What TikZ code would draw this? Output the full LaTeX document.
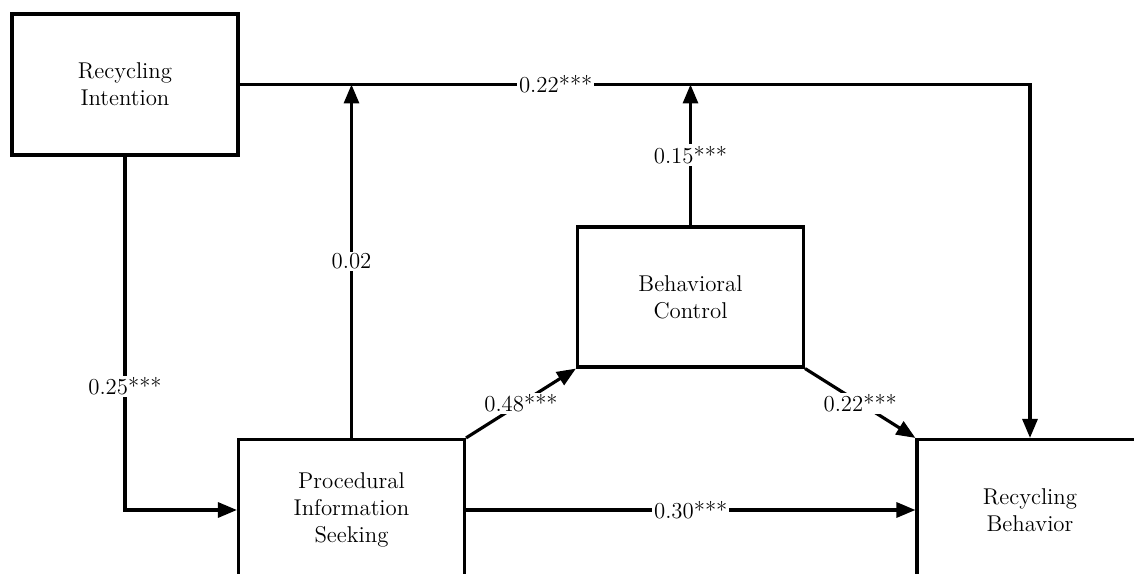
\documentclass[tikz,border=0pt]{standalone}
\usepackage{tikz}
\usetikzlibrary{arrows.meta,positioning,calc}
\tikzset{
  factor/.style={rectangle, draw=black, line width=1.8pt, fill=white,
                 align=center, font=\fontsize{13}{15.5}\selectfont,
                 minimum width=4.52cm, minimum height=2.82cm},
  coef/.style={fill=white, inner sep=1pt, font=\fontsize{13}{15.5}\selectfont},
  arr/.style={-{Triangle[length=3.8mm,width=3mm]}, line width=1.8pt, draw=black},
}
\begin{document}
\begin{tikzpicture}[x=0.02cm, y=-0.02cm]
    \useasboundingbox (0,0) rectangle (1134,574);
    \clip (0,0) rectangle (1134,574);
    \node[factor] (ri) at (125,84.5) {Recycling\\Intention};
    \node[factor] (pis) at (351.5,510) {Procedural\\Information\\Seeking};
    \node[factor, minimum height=2.8cm] (bc) at (690.5,297) {Behavioral\\Control};
    \node[factor] (rb) at (1030,510) {Recycling\\Behavior};
    \coordinate (m1) at (pis.north |- ri.east);
    \coordinate (m2) at (bc.north |- ri.east);
    \draw[arr] (ri.east) -| node[coef, pos=0.2] {0.22***} (rb.north);
    \draw[arr] (ri.south) |- node[coef, pos=0.325] {0.25***} (pis.west);
    \draw[arr] (pis.north) -- node[coef] {0.02} (m1);
    \draw[arr] (bc.north) -- node[coef] {0.15***} (m2);
    \draw[arr] (pis.north east) -- node[coef] {0.48***} (bc.south west);
    \draw[arr] (bc.south east) -- node[coef] {0.22***} (rb.north west);
    \draw[arr] (pis.east) -- node[coef] {0.30***} (rb.west);
  \end{tikzpicture}
\end{document}
